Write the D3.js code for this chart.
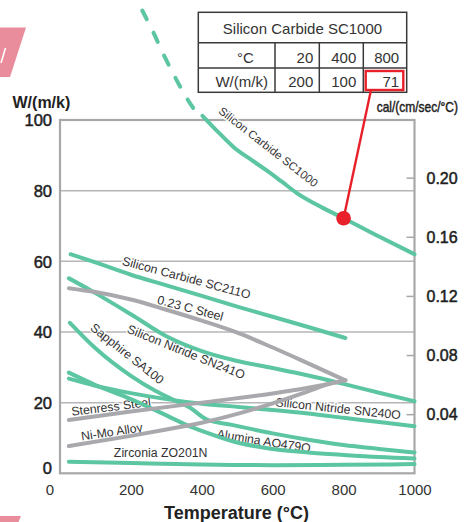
<!DOCTYPE html>
<html><head><meta charset="utf-8">
<script src="https://cdn.jsdelivr.net/npm/d3@7"></script>
<style>body{margin:0;background:#fff}svg{display:block}text{font-family:"Liberation Sans",Arial,Helvetica,sans-serif}</style>
</head><body><svg id="c" width="464" height="522"></svg>
<script>
// ---- data ----
const tempTicks = [0, 200, 400, 600, 800, 1000];
const wTicks = [0, 20, 40, 60, 80, 100];
const calTicks = [0.04, 0.08, 0.12, 0.16, 0.20];
const tableTitle = "Silicon Carbide SC1000";
const tableTemps = [20, 400, 800];
const tableValues = [200, 100, 71];
const highlightTemp = 800;

const sc1000Dashed = [[232,131],[260,125.5],[290,119],[320,113],[350,107.5],[376,103.4],[402,101.2]];
const sc1000 = [[402,101.2],[450,96.2],[490,92.3],[540,88.7],[582,85.8],[625,82.6],[667,79.4],[740,75.2],[800,72.2],[900,67],[1000,62]];
const sc2110 = [[30,62],[100,59.7],[200,56.2],[300,53.2],[400,50.2],[500,47.2],[600,44.3],[700,41.4],[805,38.3]];
const steel023 = [[25,52.4],[100,51.3],[200,49.2],[300,46.3],[400,43.2],[500,39.8],[600,35.6],[700,31.1],[805,26.3]];
const sn2410 = [[25,55.2],[100,51],[200,45],[300,38.8],[400,34.6],[500,31.8],[600,29.8],[700,27.7],[800,25.3],[900,22.8],[1000,20.4]];
const sa100 = [[28,42.6],[100,35.4],[200,27.6],[270,23.3],[320,20.8],[366,18.6],[413,15.3],[485,13.7],[600,11.3],[700,9.5],[800,8],[900,6.9],[1000,5.9]];
const sn2400 = [[25,26.8],[100,24.8],[200,22.7],[300,21],[400,19.7],[500,18.8],[600,17.9],[700,16.9],[800,15.7],[900,14.5],[1000,13.3]];
const stenress = [[25,15.1],[200,17.5],[400,20],[600,22.6],[700,24.2],[805,26.3]];
const nimo = [[25,7.7],[200,10.6],[300,12.4],[400,14.3],[500,16.8],[600,19.8],[700,23.2],[760,25.3],[805,26.3]];
const alumina = [[25,28.5],[100,25],[200,21],[300,16.4],[366,13.3],[400,12],[500,8.7],[600,6.9],[700,5.9],[800,5.2],[900,4.6],[1000,4.2]];
const zirconia = [[25,3.3],[200,2.9],[400,2.5],[600,2.3],[800,2.4],[1000,2.6]];

const labelNames = ["Silicon Carbide SC1000","Silicon Carbide SC211O","0.23 C Steel","Silicon Nitride SN241O","Sapphire SA100","Stenress Steel","Ni-Mo Alloy","Zirconia ZO201N","Silicon Nitride SN240O","Alumina AO479O"];
const labelAt = [[588,92.4],[357,55.4],[368,46.8],[356,34.4],[190,33.9],[144,18.9],[146,11.8],[284,5.9],[785,18.4],[575,9.2]];
const labelAngle = [38,15,15,22,38.5,-7,-8.5,0,6,9];

// ---- drawing ----
const GREEN = "#5cc5a1", GRAY = "#a9a9ad", GRID = "#b6b6b9", TXT = "#333";
const svg = d3.select("#c");
svg.append("rect").attr("width",464).attr("height",522).attr("fill","#fff");

const x = d3.scaleLinear().domain([0,1000]).range([60,414.5]);
const y = d3.scaleLinear().domain([0,100]).range([473.3,120]);
const yCal = d3.scaleLinear().domain([0,100/418.4]).range([473.3,120]);

// decorative pink shapes
svg.append("path").attr("d","M0,27.5L26,27.5L10,77L0,77Z").attr("fill","#e98c9b");
svg.append("path").attr("d","M1,63L5.5,48").attr("stroke","#fff").attr("stroke-width",1.6);
svg.append("path").attr("d","M0,516L21,516L18.5,522L0,522Z").attr("fill","#e98c9b");

// gridlines
svg.append("g").selectAll("line").data(wTicks.filter(d=>d>0&&d<100)).join("line")
  .attr("x1",x(0)).attr("x2",x(1000)).attr("y1",d=>y(d)).attr("y2",d=>y(d))
  .attr("stroke",GRID).attr("stroke-width",1.5);

// frame
svg.append("rect").attr("x",x(0)).attr("y",y(100)).attr("width",x(1000)-x(0)).attr("height",y(0)-y(100))
  .attr("fill","none").attr("stroke","#a8a8ab").attr("stroke-width",2.2);

// right axis (cal)
const ra = svg.append("g").attr("transform",`translate(${x(1000)},0)`)
  .call(d3.axisRight(yCal).tickValues(calTicks).tickSize(-8).tickPadding(12).tickFormat(d3.format(".2f")));
ra.select(".domain").remove();
ra.selectAll("line").attr("stroke","#a8a8ab").attr("stroke-width",1.5);
ra.selectAll("text").attr("font-size",16).attr("fill","#1e1e1e").attr("stroke","#1e1e1e").attr("stroke-width",0.5)
  .attr("font-family","Liberation Sans, Arial, sans-serif").attr("dy",null).attr("y",5.7);

// left axis
const la = svg.append("g").attr("transform",`translate(${x(0)},0)`)
  .call(d3.axisLeft(y).tickValues(wTicks).tickSize(0).tickPadding(8));
la.select(".domain").remove();
la.selectAll("text").attr("font-size",16.5).attr("fill","#1e1e1e").attr("stroke","#1e1e1e").attr("stroke-width",0.5)
  .attr("font-family","Liberation Sans, Arial, sans-serif").attr("dy",null)
  .attr("y",d=>d===0?0.6:5.9);

// bottom axis
const ba = svg.append("g").attr("transform",`translate(0,${y(0)})`)
  .call(d3.axisBottom(x).tickValues(tempTicks).tickSize(0).tickFormat(d3.format("d")));
ba.select(".domain").remove();
ba.selectAll("text").attr("font-size",15).attr("fill","#333")
  .attr("font-family","Liberation Sans, Arial, sans-serif").attr("dy",null).attr("y",22)
  .attr("x",d=>d===0?-10.5:0);

// axis titles
svg.append("text").attr("x",12.5).attr("y",107.8).attr("font-size",16).attr("font-weight","bold").attr("fill","#222").text("W/(m/k)");
svg.append("text").attr("transform","translate(376.7,111.5) scale(0.855,1)").attr("font-size",14)
  .attr("fill","#1e1e1e").attr("stroke","#1e1e1e").attr("stroke-width",0.45).text("cal/(cm/sec/°C)");
svg.append("text").attr("x",236.5).attr("y",519).attr("text-anchor","middle").attr("font-size",18).attr("font-weight","bold").attr("fill","#222").text("Temperature (°C)");

// curve labels (under curves, with halo to cut gridlines)
svg.append("g").selectAll("text").data(labelNames).join("text")
  .attr("transform",(d,i)=>`translate(${x(labelAt[i][0])},${y(labelAt[i][1])}) rotate(${labelAngle[i]})`)
  .attr("text-anchor","middle").attr("dy","0.36em")
  .attr("font-size",(d,i)=>i===0?11.5:12.3).attr("fill",TXT)
  .attr("stroke","#fff").attr("stroke-width",2.5).attr("paint-order","stroke")
  .text(d=>d);

// curves
const line = d3.line().x(d=>x(d[0])).y(d=>y(d[1])).curve(d3.curveMonotoneX);
const curves = [
  [zirconia,GREEN],[alumina,GREEN],[sa100,GREEN],[sn2400,GREEN],[sn2410,GREEN],[sc2110,GREEN],[sc1000,GREEN],
  [nimo,GRAY],[stenress,GRAY],[steel023,GRAY]
];
svg.append("g").selectAll("path").data(curves).join("path")
  .attr("d",d=>line(d[0])).attr("fill","none").attr("stroke",d=>d[1])
  .attr("stroke-width",4).attr("stroke-linejoin","round").attr("stroke-linecap","round");
svg.append("path").attr("d",line(sc1000Dashed)).attr("fill","none").attr("stroke",GREEN)
  .attr("stroke-width",4).attr("stroke-dasharray","10,15").attr("stroke-linecap","round");

// table
const tb = svg.append("g").attr("fill","none").attr("stroke","#3a3a3a").attr("stroke-width",1.5);
const tx0=198.3, tx1=275, tx2=319.3, tx3=363.3, tx4=406.7, ty0=12.3, ty1=42.7, ty2=68, ty3=92.3;
tb.append("rect").attr("x",tx0).attr("y",ty0).attr("width",tx4-tx0).attr("height",ty3-ty0);
[ty1,ty2].forEach(v=>tb.append("line").attr("x1",tx0).attr("x2",tx4).attr("y1",v).attr("y2",v));
[tx1,tx2,tx3].forEach(v=>tb.append("line").attr("x1",v).attr("x2",v).attr("y1",ty1).attr("y2",ty3));
const tt = svg.append("g").attr("font-size",15).attr("fill","#333");
tt.append("text").attr("x",(tx0+tx4)/2).attr("y",34.3).attr("text-anchor","middle").text(tableTitle);
tt.append("text").attr("x",245.5).attr("y",62.9).attr("text-anchor","middle").text("°C");
tt.append("text").attr("x",241.7).attr("y",86.8).attr("text-anchor","middle").text("W/(m/k)");
const colR=[tx2-6,tx3-7,tx4-7.5];
tableTemps.forEach((v,i)=>tt.append("text").attr("x",colR[i]).attr("y",62.9).attr("text-anchor","end").text(v));
tableValues.forEach((v,i)=>tt.append("text").attr("x",colR[i]).attr("y",87).attr("text-anchor","end").text(v));

// highlight
const RED = "#e8202a";
const hv = sc1000.find(d=>d[0]===highlightTemp)[1];
svg.append("rect").attr("x",365.7).attr("y",71).attr("width",37.6).attr("height",19)
  .attr("fill","none").attr("stroke",RED).attr("stroke-width",2.4);
svg.append("line").attr("x1",371).attr("y1",90).attr("x2",x(highlightTemp)).attr("y2",y(hv))
  .attr("stroke",RED).attr("stroke-width",2.4);
svg.append("circle").attr("cx",x(highlightTemp)).attr("cy",y(hv)).attr("r",7.3).attr("fill",RED);
</script></body></html>
